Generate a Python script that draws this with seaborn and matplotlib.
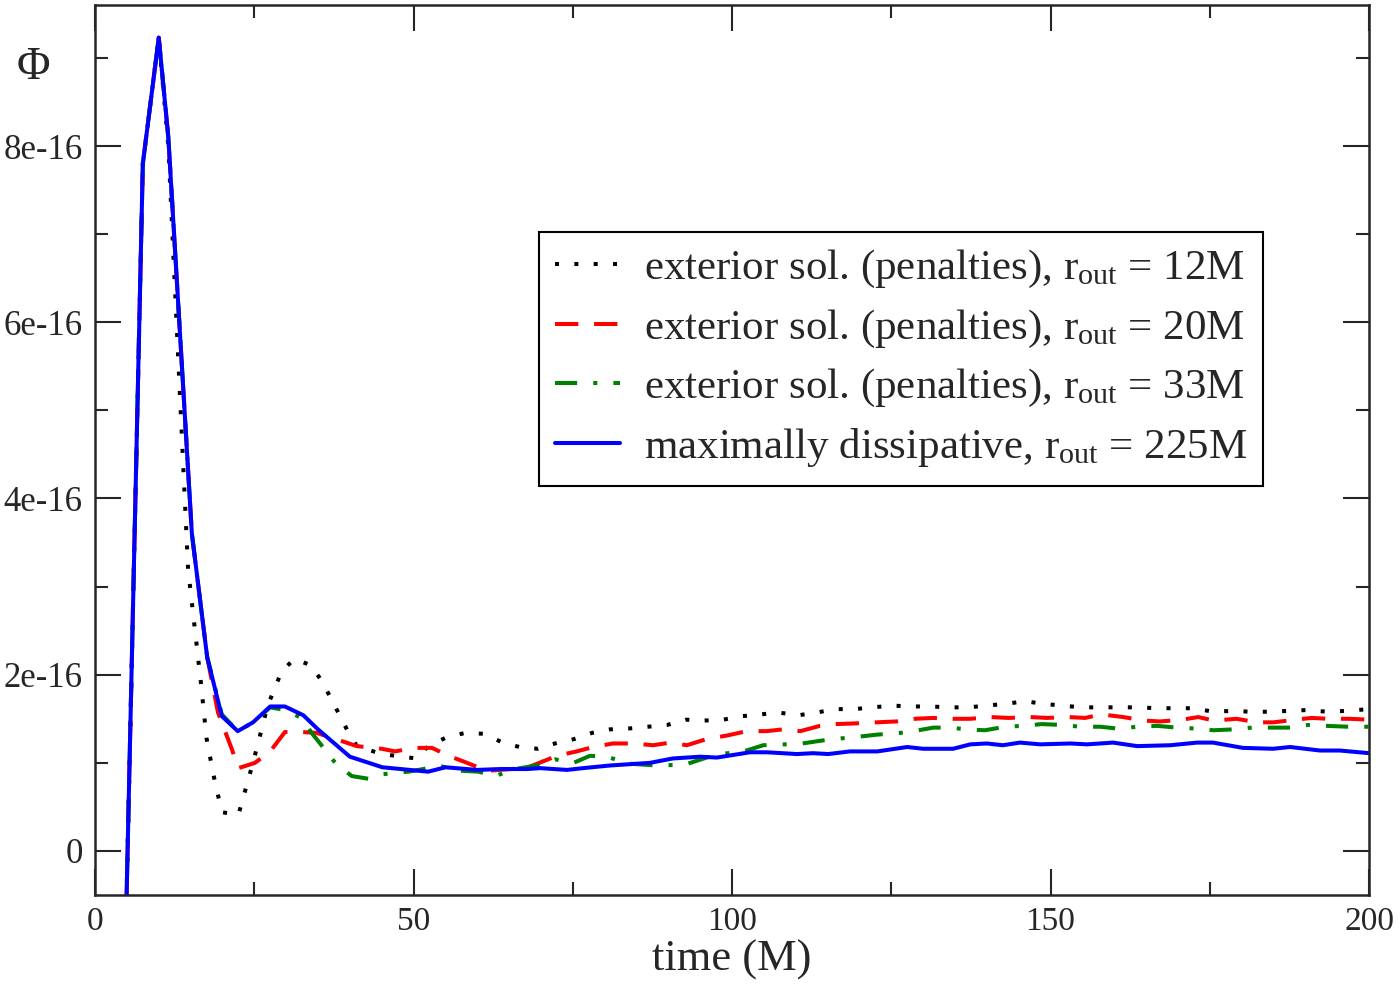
import numpy as np
import pandas as pd
import matplotlib
matplotlib.use("Agg")
import matplotlib.pyplot as plt
from matplotlib.ticker import FixedLocator, FuncFormatter
import seaborn as sns

# ==========================================
# DATA (values in units of 1e-16)
# ==========================================
t_12 = [4.8, 7.5, 10, 11.5, 14.6, 15.6, 16.6, 17.5, 18.6, 19.9, 22.5, 24.9, 27.1, 29.3,
        31.3, 33.8, 35.5, 36.9, 39.6, 41.1, 45, 50.4, 52.3, 55.2, 58.1, 61.0, 63.7, 66.6,
        69.5, 72.2, 75.2, 78.0, 80.8, 83.8, 86.8, 89.8, 92.8, 95.6, 98.6, 101.6, 104.4,
        107.4, 110.4, 113.2, 116.2, 119.2, 122.1, 125.1, 128.1, 131.1, 134.1, 137.1, 140.0,
        143.0, 146.0, 148.8, 151.8, 154.8, 157.8, 160.8, 163.7, 166.7, 169.7, 172.5, 175.5,
        178.5, 181.5, 184.5, 187.4, 190.4, 193.4, 196.4, 200]
phi_12 = [-1.0, 7.8, 9.23, 8.0, 3.2, 2.56, 1.92, 1.28, 0.86, 0.44, 0.41, 1.03, 1.65, 2.04,
          2.18, 2.11, 1.94, 1.75, 1.37, 1.19, 1.10, 1.05, 1.19, 1.29, 1.34, 1.33, 1.24, 1.18,
          1.16, 1.22, 1.27, 1.34, 1.38, 1.39, 1.41, 1.43, 1.49, 1.48, 1.49, 1.53, 1.55,
          1.57, 1.54, 1.57, 1.61, 1.61, 1.63, 1.65, 1.64, 1.64, 1.63, 1.63, 1.65,
          1.67, 1.70, 1.67, 1.65, 1.63, 1.63, 1.63, 1.63, 1.62, 1.62, 1.62, 1.58,
          1.59, 1.58, 1.58, 1.59, 1.60, 1.58, 1.59, 1.61]

t_20 = [4.8, 7.5, 10, 11.5, 15.2, 17.6, 19.3, 21.5, 22.5, 25.1, 27.5, 29.8, 32.4, 34.8,
        38.2, 41.1, 45.0, 47.1, 50.0, 52.9, 55.5, 58.4, 61.5, 65.4, 68.0, 72.5, 75.6, 78.2,
        81.3, 84.5, 87.6, 90.3, 92.9, 96.0, 99.2, 102.3, 105.4, 108.0, 110.7, 113.8, 116.4,
        120.1, 122.7, 125.8, 128.7, 131.6, 134.7, 137.4, 140.5, 143.4, 146.8, 149.4, 152.8,
        155.4, 158.0, 161.4, 164.6, 167.2, 170.6, 173.2, 175.6, 179.2, 182.4, 185.0, 188.4,
        191.0, 193.6, 197.0, 200]
phi_20 = [-1.0, 7.8, 9.23, 8.1, 3.6, 2.2, 1.57, 1.15, 0.94, 1.0, 1.13, 1.35, 1.35, 1.34,
          1.26, 1.19, 1.16, 1.13, 1.17, 1.17, 1.08, 1.0, 0.91, 0.93, 0.95, 1.08, 1.13, 1.18,
          1.22, 1.22, 1.20, 1.23, 1.20, 1.27, 1.31, 1.36, 1.36, 1.38, 1.36, 1.42, 1.44,
          1.45, 1.46, 1.47, 1.50, 1.51, 1.50, 1.50, 1.52, 1.51, 1.52, 1.51, 1.52,
          1.51, 1.55, 1.52, 1.48, 1.47, 1.49, 1.52, 1.48, 1.50, 1.46, 1.46, 1.49,
          1.51, 1.50, 1.50, 1.49]

t_33 = [4.8, 7.5, 10, 11.5, 15.2, 17.6, 19.9, 22.4, 24.8, 27.5, 29.8, 32.4, 34.0, 36.1,
        37.7, 40.3, 42.9, 45.0, 49.2, 52.3, 54.4, 57.6, 60.2, 62.8, 65.9, 69.3, 72.2, 75.1,
        77.7, 80.3, 84.0, 88.2, 92.6, 96.0, 98.1, 101.8, 104.9, 107.5, 110.1, 113.8, 115.9,
        119.0, 122.7, 126.4, 128.5, 131.6, 134.2, 136.8, 139.7, 142.9, 145.7, 148.6, 152.0,
        154.6, 157.8, 160.4, 163.8, 166.7, 169.8, 172.7, 175.6, 178.7, 181.6, 184.5, 187.6,
        190.4, 193.3, 196.7, 200]
phi_33 = [-1.0, 7.8, 9.23, 8.1, 3.6, 2.2, 1.55, 1.36, 1.46, 1.63, 1.60, 1.51, 1.34, 1.15,
          1.0, 0.85, 0.82, 0.87, 0.90, 0.94, 0.96, 0.91, 0.90, 0.85, 0.93, 0.97, 1.04, 1.0,
          1.08, 1.07, 0.99, 0.97, 0.98, 1.06, 1.10, 1.13, 1.20, 1.21, 1.21, 1.25, 1.27,
          1.29, 1.32, 1.34, 1.36, 1.40, 1.40, 1.38, 1.37, 1.41, 1.42, 1.44, 1.43,
          1.41, 1.41, 1.39, 1.41, 1.42, 1.40, 1.39, 1.37, 1.38, 1.40, 1.40, 1.40,
          1.43, 1.42, 1.41, 1.41]

t_225 = [4.8, 7.5, 10, 11.5, 15.2, 17.6, 19.9, 22.4, 24.8, 27.5, 29.8, 32.7, 35, 40, 45.1,
         52.3, 55, 60, 63.6, 67.8, 69.9, 74.1, 76.6, 80.8, 87.1, 90.7, 95, 97.6, 102.8,
         105.5, 110.2, 112.7, 115.1, 118.5, 122.8, 127.5, 130, 134.7, 137.4, 140, 142.5,
         145.2, 148.4, 153.1, 155.7, 159.8, 163.6, 168.8, 173, 175.5, 180.2, 184.9, 187.6,
         192.3, 195.4, 200]
phi_225 = [-1.0, 7.8, 9.23, 8.1, 3.6, 2.2, 1.53, 1.36, 1.46, 1.64, 1.64, 1.54, 1.38, 1.07, 0.95,
           0.90, 0.95, 0.92, 0.93, 0.93, 0.94, 0.92, 0.94, 0.97, 1.00, 1.05, 1.07, 1.06, 1.12,
           1.12, 1.10, 1.11, 1.10, 1.13, 1.13, 1.18, 1.16, 1.16, 1.21, 1.22, 1.20,
           1.23, 1.21, 1.22, 1.21, 1.23, 1.19, 1.20, 1.23, 1.23, 1.17, 1.16, 1.18,
           1.14, 1.14, 1.11]

labels = [
    r"exterior sol. (penalties), r$_{\mathrm{out}}$ = 12M",
    r"exterior sol. (penalties), r$_{\mathrm{out}}$ = 20M",
    r"exterior sol. (penalties), r$_{\mathrm{out}}$ = 33M",
    r"maximally dissipative, r$_{\mathrm{out}}$ = 225M",
]
colors = ["black", "#ff0000", "#008000", "#0000ff"]
styles = [(0, (1, 3.8)), (0, (5.8, 3.9)), (0, (5.5, 4, 1, 4)), "-"]

# ==========================================
# PLOT
# ==========================================
sns.set_style("ticks")
plt.rcParams["font.family"] = ["Liberation Serif", "DejaVu Serif"]
plt.rcParams["mathtext.fontset"] = "custom"
plt.rcParams["mathtext.rm"] = "Liberation Serif"
plt.rcParams["mathtext.it"] = "Liberation Serif:italic"

fig = plt.figure(figsize=(14, 9.84), dpi=100)
ax = fig.add_axes([0.0679, 0.0904, 0.91, 0.9045])

series = [(t_12, phi_12), (t_20, phi_20), (t_33, phi_33), (t_225, phi_225)]
for (t, v), lab, col, ls in zip(series, labels, colors, styles):
    df = pd.DataFrame({"time": t, "phi": np.array(v) * 1e-16})
    sns.lineplot(data=df, x="time", y="phi", ax=ax, color=col, linestyle=ls,
                 linewidth=2.9, label=lab, sort=False, estimator=None)

ax.set_xlim(0, 200)
ax.set_ylim(-0.5e-16, 9.6e-16)
ax.xaxis.set_major_locator(FixedLocator([0, 50, 100, 150, 200]))
ax.xaxis.set_minor_locator(FixedLocator([25, 75, 125, 175]))
ax.yaxis.set_major_locator(FixedLocator([0, 2e-16, 4e-16, 6e-16, 8e-16]))
ax.yaxis.set_minor_locator(FixedLocator([1e-16, 3e-16, 5e-16, 7e-16, 9e-16]))
ax.yaxis.set_major_formatter(FuncFormatter(
    lambda v, p: "0" if abs(v) < 1e-20 else f"{round(v / 1e-16):d}e-16"))

ax.tick_params(which="both", direction="in", top=True, right=True, width=1.5)
ax.tick_params(which="major", length=18.5, labelsize=24, pad=8)
ax.tick_params(which="minor", length=9.5)
ax.tick_params(axis="y", which="major", labelsize=25, pad=9)
for sp in ax.spines.values():
    sp.set_linewidth(1.8)
    sp.set_visible(True)

ax.set_xlabel("time (M)", fontsize=32, labelpad=2)
ax.set_ylabel("")
fig.text(33 / 1400, 1 - 68 / 984, "Φ", fontsize=33, ha="center", va="center")

leg = ax.legend(loc="upper right", bbox_to_anchor=(0.917, 0.745), fontsize=31,
                frameon=True, fancybox=False, framealpha=1, edgecolor="black",
                handlelength=1.5, handletextpad=0.55, labelspacing=0.4,
                borderpad=0.38, borderaxespad=0)
leg.get_frame().set_linewidth(1.5)

plt.savefig("out.png", dpi=100)
plt.close()
